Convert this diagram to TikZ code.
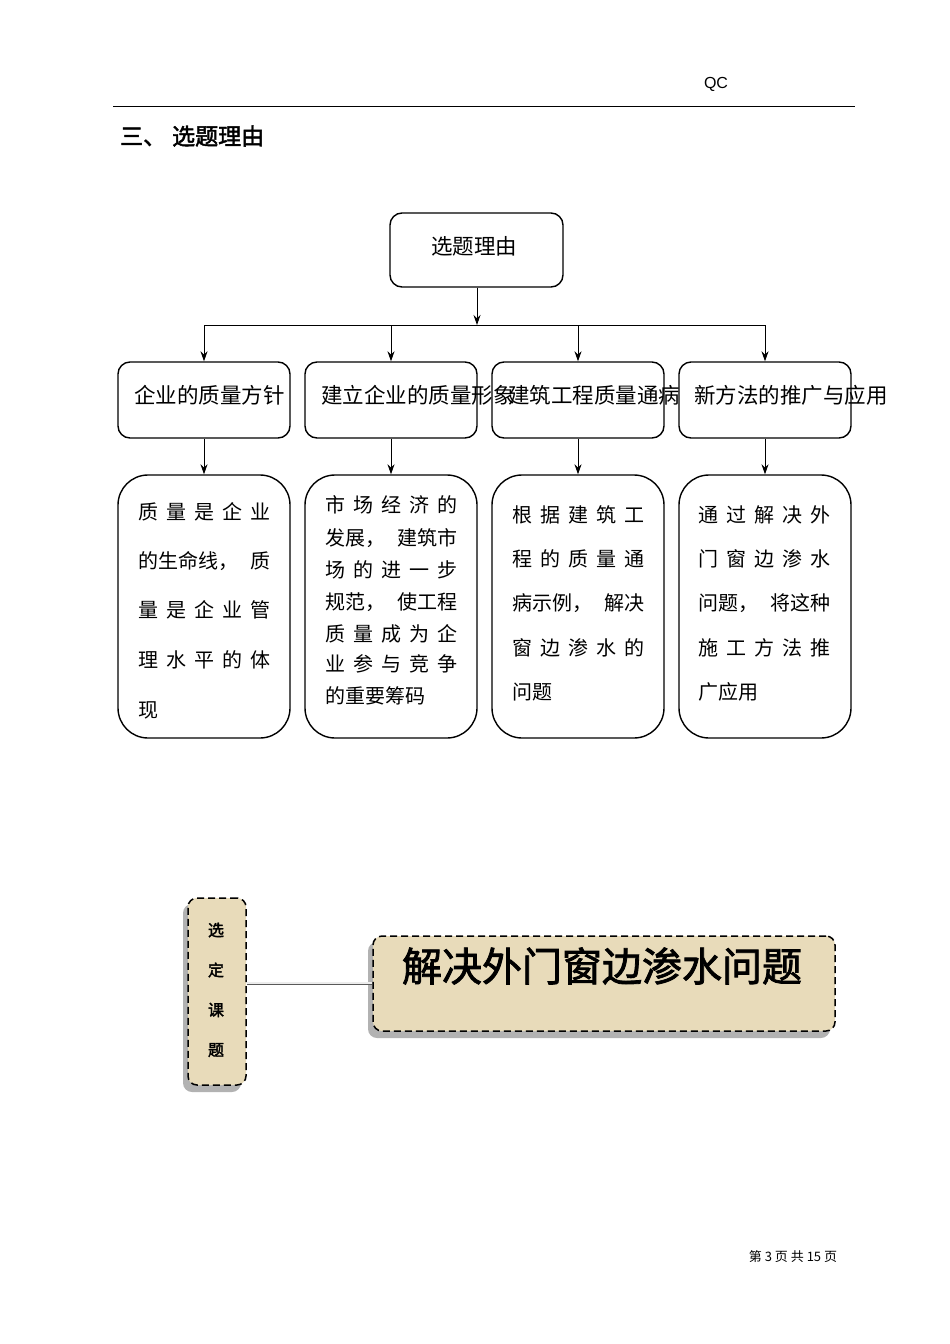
\documentclass[tikz,border=0pt]{standalone}
\usepackage{fontspec}
\setmainfont{Liberation Serif}
\newfontfamily\cjk{Noto Sans CJK SC}
\newfontfamily\cjkb{Noto Sans CJK SC}[FakeBold=2]
\newfontfamily\lsans{Liberation Sans}
\usetikzlibrary{arrows.meta}
\definecolor{parch}{RGB}{232,219,186}
\newcommand\jline[1]{\makebox[132pt][l]{#1}}
\begin{document}
\begin{tikzpicture}[x=1pt,y=-1pt,
  box/.style={draw,line width=1.4pt,rounded corners=12pt},
  arr/.style={line width=0.9pt,-{Stealth[length=10pt,width=7pt]}},
  lbl/.style={font=\cjk\fontsize{21.5}{21.5}\selectfont,inner sep=0pt},
  body/.style={font=\cjk\fontsize{20}{20}\selectfont,inner sep=0pt,anchor=west},
  dbox/.style={draw,line width=1.5pt,dash pattern=on 7pt off 4pt,rounded corners=9pt,fill=parch}]
\useasboundingbox (0,0) rectangle (950,1344);
% header
\node[font=\lsans\fontsize{16}{16}\selectfont,inner sep=0pt] (qc) at (716,84) {QC};
\draw[line width=0.8pt] (113,106) -- (855,106);
\node[font=\cjkb\fontsize{23}{23}\selectfont,inner sep=0pt,anchor=west] (title) at (120,136) {三、\hspace{6pt}选题理由};
% top
\node[box,minimum width=173pt,minimum height=74pt] (top) at (476.5,250) {};
\node[lbl] (toptxt) at (474,246) {选题理由};
\coordinate (j) at (477,325);
\draw[arr] (top.south -| j) -- (j);
\draw[line width=0.9pt] (204,325) -- (765,325);
\foreach \i/\x/\tx/\t in {1/204/134/企业的质量方针,2/391/321/建立企业的质量形象,3/578/508/建筑工程质量通病,4/765/694/新方法的推广与应用}{
  \node[box,minimum width=172pt,minimum height=76pt] (m\i) at (\x,400) {};
  \node[box,minimum width=172pt,minimum height=263pt,rounded corners=30pt] (b\i) at (\x,606.5) {};
  \coordinate (t\i) at (\x,325);
  \draw[arr] (t\i) -- (m\i.north);
  \draw[arr] (m\i.south) -- (b\i.north);
  \node[lbl,anchor=west] (ml\i) at (\tx,395) {\t};
}
% box1
\node[body] (a1) at (138,512) {\jline{质\hfill 量\hfill 是\hfill 企\hfill 业}};
\node[body] (a2) at (138,561) {\jline{的生命线，\hfill 质}};
\node[body] (a3) at (138,610) {\jline{量\hfill 是\hfill 企\hfill 业\hfill 管}};
\node[body] (a4) at (138,660) {\jline{理\hfill 水\hfill 平\hfill 的\hfill 体}};
\node[body] (a5) at (138,710) {现};
% box2
\node[body] (c1) at (325,505) {\jline{市\hfill 场\hfill 经\hfill 济\hfill 的}};
\node[body] (c2) at (325,538) {\jline{发展，\hfill 建筑市}};
\node[body] (c3) at (325,570) {\jline{场\hfill 的\hfill 进\hfill 一\hfill 步}};
\node[body] (c4) at (325,602) {\jline{规范，\hfill 使工程}};
\node[body] (c5) at (325,634) {\jline{质\hfill 量\hfill 成\hfill 为\hfill 企}};
\node[body] (c6) at (325,664) {\jline{业\hfill 参\hfill 与\hfill 竞\hfill 争}};
\node[body] (c7) at (325,696) {的重要筹码};
% box3
\node[body] (d1) at (512,515) {\jline{根\hfill 据\hfill 建\hfill 筑\hfill 工}};
\node[body] (d2) at (512,559) {\jline{程\hfill 的\hfill 质\hfill 量\hfill 通}};
\node[body] (d3) at (512,603) {\jline{病示例，\hfill 解决}};
\node[body] (d4) at (512,648) {\jline{窗\hfill 边\hfill 渗\hfill 水\hfill 的}};
\node[body] (d5) at (512,692) {问题};
% box4
\node[body] (e1) at (698,515) {\jline{通\hfill 过\hfill 解\hfill 决\hfill 外}};
\node[body] (e2) at (698,559) {\jline{门\hfill 窗\hfill 边\hfill 渗\hfill 水}};
\node[body] (e3) at (698,603) {\jline{问题，\hfill 将这种}};
\node[body] (e4) at (698,648) {\jline{施\hfill 工\hfill 方\hfill 法\hfill 推}};
\node[body] (e5) at (698,692) {广应用};
% bottom
\fill[gray!60,rounded corners=9pt] (183,904) rectangle (241,1092);
\fill[gray!60,rounded corners=9pt] (368,942) rectangle (830,1038);
\node[dbox,minimum width=58pt,minimum height=187pt] (sel) at (217,991.5) {};
\node[dbox,minimum width=462pt,minimum height=95pt] (topic) at (604,983.5) {};
\foreach \c/\y in {选/930,定/970,课/1010,题/1050}
  \node[font=\cjkb\fontsize{16}{16}\selectfont,inner sep=0pt] at (216,\y) {\c};
\node[font=\cjkb\fontsize{40}{40}\selectfont,inner sep=0pt] (tt) at (602,966) {解决外门窗边渗水问题};
\draw[gray!70!black,line width=3pt] (sel.east |- 0,983) -- (topic.west |- 0,983);
\draw[white!85!gray,line width=1.2pt] (sel.east |- 0,983) -- (topic.west |- 0,983);
% footer
\node[font=\cjk\fontsize{13}{13}\selectfont,inner sep=0pt] (ft) at (793,1257) {第 3 页 共 15 页};
\end{tikzpicture}
\end{document}
